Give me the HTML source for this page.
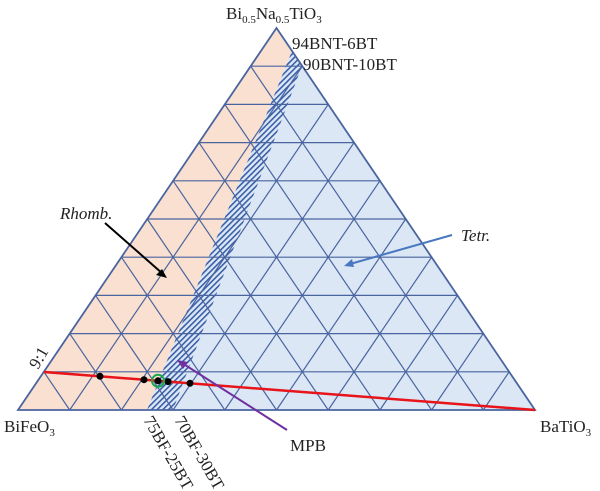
<!DOCTYPE html>
<html><head><style>body{margin:0;background:#fff}svg{display:block}</style></head>
<body>
<svg width="600" height="491" viewBox="0 0 600 491" xmlns="http://www.w3.org/2000/svg" font-family="Liberation Serif, serif">
<defs>
<pattern id="h" patternUnits="userSpaceOnUse" width="4" height="4" patternTransform="rotate(45)">
<rect width="4" height="4" fill="#dce8f5"/><rect width="1.6" height="4" fill="#3a5fa8"/>
</pattern>
<clipPath id="tri"><polygon points="18,410 276.5,28 535,410"/></clipPath>
</defs>
<g clip-path="url(#tri)">
<polygon points="18,410 276.5,28 292,51 147,410" fill="#f9e0d0"/>
<polygon points="302,66 535,410 173,410" fill="#dbe7f5"/>
<polygon points="292,51 302,66 173,410 147,410" fill="url(#h)"/>
</g>
<g stroke="#4a64a0" stroke-width="1.2" fill="none">
<line x1="43.85" y1="371.8" x2="509.15" y2="371.8"/>
<line x1="69.7" y1="333.6" x2="483.3" y2="333.6"/>
<line x1="95.55" y1="295.4" x2="457.45" y2="295.4"/>
<line x1="121.4" y1="257.2" x2="431.6" y2="257.2"/>
<line x1="147.25" y1="219" x2="405.75" y2="219"/>
<line x1="173.1" y1="180.8" x2="379.9" y2="180.8"/>
<line x1="198.95" y1="142.6" x2="354.05" y2="142.6"/>
<line x1="224.8" y1="104.4" x2="328.2" y2="104.4"/>
<line x1="250.65" y1="66.2" x2="302.35" y2="66.2"/>
<line x1="69.7" y1="410" x2="43.85" y2="371.8"/>
<line x1="121.4" y1="410" x2="69.7" y2="333.6"/>
<line x1="173.1" y1="410" x2="95.55" y2="295.4"/>
<line x1="224.8" y1="410" x2="121.4" y2="257.2"/>
<line x1="276.5" y1="410" x2="147.25" y2="219"/>
<line x1="328.2" y1="410" x2="173.1" y2="180.8"/>
<line x1="379.9" y1="410" x2="198.95" y2="142.6"/>
<line x1="431.6" y1="410" x2="224.8" y2="104.4"/>
<line x1="483.3" y1="410" x2="250.65" y2="66.2"/>
<line x1="483.3" y1="410" x2="509.15" y2="371.8"/>
<line x1="431.6" y1="410" x2="483.3" y2="333.6"/>
<line x1="379.9" y1="410" x2="457.45" y2="295.4"/>
<line x1="328.2" y1="410" x2="431.6" y2="257.2"/>
<line x1="276.5" y1="410" x2="405.75" y2="219"/>
<line x1="224.8" y1="410" x2="379.9" y2="180.8"/>
<line x1="173.1" y1="410" x2="354.05" y2="142.6"/>
<line x1="121.4" y1="410" x2="328.2" y2="104.4"/>
<line x1="69.7" y1="410" x2="302.35" y2="66.2"/>
</g>
<polygon points="18,410 276.5,28 535,410" fill="none" stroke="#4a64a0" stroke-width="1.8"/>
<line x1="44" y1="372" x2="535" y2="410" stroke="#e8141a" stroke-width="2.5"/>
<g fill="#000">
<circle cx="100" cy="376.3" r="3.5"/><circle cx="144" cy="379.7" r="3.5"/><circle cx="158" cy="380.8" r="3.5"/><circle cx="168" cy="381.6" r="3.5"/><circle cx="190" cy="383.3" r="3.5"/>
</g>
<circle cx="158" cy="380.8" r="6" fill="none" stroke="#1aa84a" stroke-width="2"/>
<g stroke-width="2">
<line x1="105" y1="223" x2="163" y2="274" stroke="#000"/><polygon points="167,278 156,275 162,269" fill="#000"/>
<line x1="452" y1="235" x2="350" y2="264" stroke="#4a78c0"/><polygon points="344,266 352,259 354,267" fill="#4a78c0"/>
<line x1="287" y1="430" x2="182" y2="363" stroke="#7030a0"/><polygon points="177,360 188,362 183,369" fill="#7030a0"/>
</g>
<g font-size="17" fill="#222">
<text x="226" y="19">Bi<tspan font-size="11" dy="4">0.5</tspan><tspan dy="-4">Na</tspan><tspan font-size="11" dy="4">0.5</tspan><tspan dy="-4">TiO</tspan><tspan font-size="11" dy="4">3</tspan></text>
<text x="292" y="49">94BNT-6BT</text>
<text x="303" y="70">90BNT-10BT</text>
<text x="4" y="432">BiFeO<tspan font-size="11" dy="4">3</tspan></text>
<text x="540" y="432">BaTiO<tspan font-size="11" dy="4">3</tspan></text>
<text x="290" y="451">MPB</text>
<text x="60" y="219" font-style="italic">Rhomb.</text>
<text x="461" y="241" font-style="italic">Tetr.</text>
<text transform="translate(38,370) rotate(-60)">9:1</text>
<text transform="translate(143,420) rotate(60)">75BF-25BT</text>
<text transform="translate(174,420) rotate(60)">70BF-30BT</text>
</g>
</svg>
</body></html>
